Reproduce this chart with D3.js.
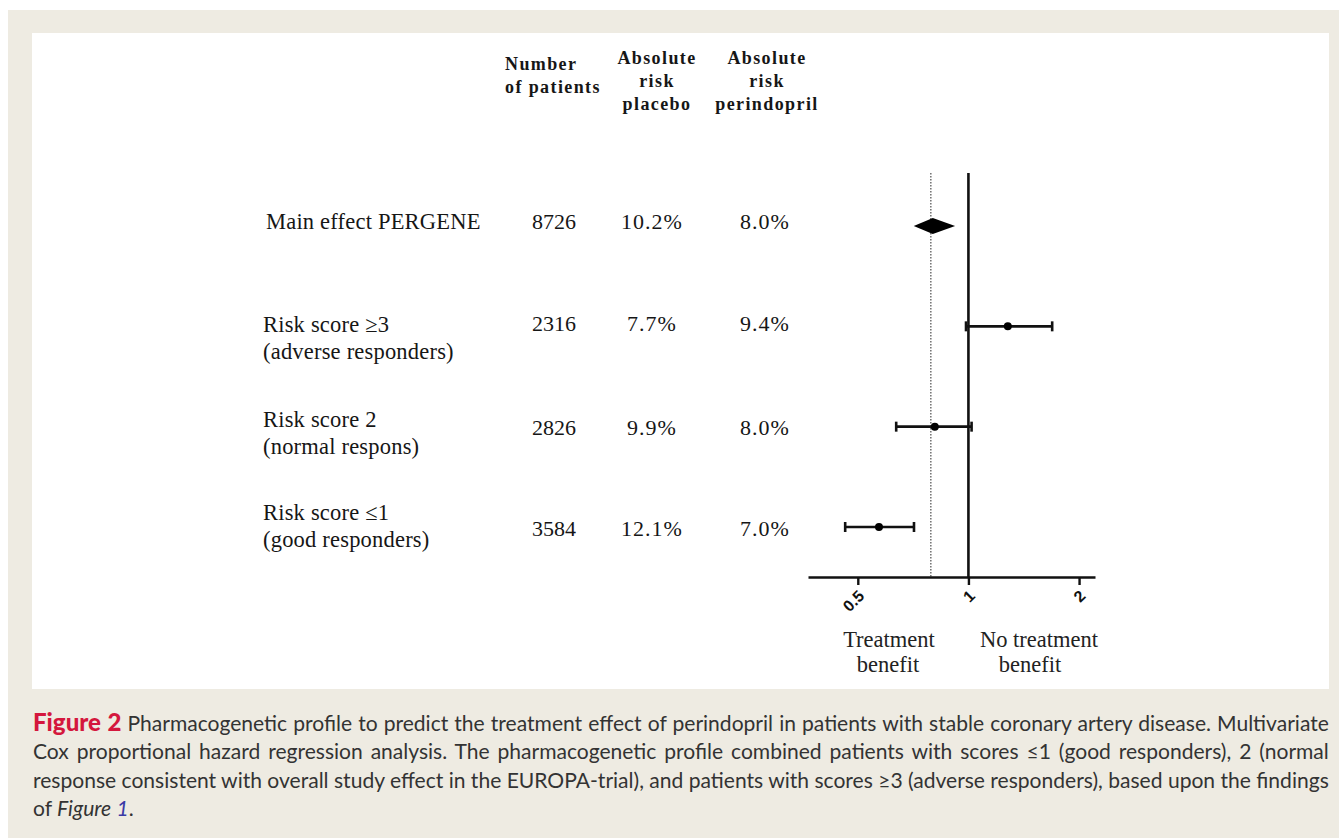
<!DOCTYPE html>
<html><head><meta charset="utf-8">
<script src="https://cdn.jsdelivr.net/npm/d3@7"></script>
<style>body{margin:0;background:#fff;} svg{display:block}</style>
</head><body><svg id="c" width="1339" height="838"></svg>
<script>
// ---------------- data ----------------
const rowIds = ["main", "adverse", "normal", "good"];
const labelLine1 = ["Main effect PERGENE", "Risk score \u22653", "Risk score 2", "Risk score \u22641"];
const labelLine2 = ["", "(adverse responders)", "(normal respons)", "(good responders)"];
const nPatients = ["8726", "2316", "2826", "3584"];
const riskPlacebo = ["10.2%", "7.7%", "9.9%", "12.1%"];
const riskPerindopril = ["8.0%", "9.4%", "8.0%", "7.0%"];
const hrEstimate = [0.80, 1.28, 0.81, 0.571];
const hrLower = [0.71, 0.985, 0.636, 0.462];
const hrUpper = [0.92, 1.69, 1.02, 0.711];
const overallRef = 0.79;
const nullRef = 1;
const tickValues = [0.5, 1, 2];
const tickLabels = ["0.5", "1", "2"];
const headerCols = [["Number", "of patients"], ["Absolute", "risk", "placebo"], ["Absolute", "risk", "perindopril"]];
const directionLabels = [["Treatment", "benefit"], ["No treatment", "benefit"]];
const captionLines = [
  [{t: "Figure 2", s: "fig"}, {t: " Pharmacogenetic profile to predict the treatment effect of perindopril in patients with stable coronary artery disease. Multivariate"}],
  [{t: "Cox proportional hazard regression analysis. The pharmacogenetic profile combined patients with scores \u22641 (good responders), 2 (normal"}],
  [{t: "response consistent with overall study effect in the EUROPA-trial), and patients with scores \u22653 (adverse responders), based upon the findings"}],
  [{t: "of "}, {t: "Figure", s: "it"}, {t: " "}, {t: "1", s: "link"}, {t: "."}]
];

// ---------------- layout ----------------
const svg = d3.select("#c");
const serif = "'Liberation Serif','Times New Roman',serif";
const ink = "#161616";

svg.append("rect").attr("width", 1339).attr("height", 838).attr("fill", "#fff");
svg.append("rect").attr("x", 8).attr("y", 10).attr("width", 1331).attr("height", 828).attr("fill", "#eeebe2");
svg.append("rect").attr("x", 32).attr("y", 33).attr("width", 1297).attr("height", 656).attr("fill", "#fff");

const x = d3.scaleLog().domain([0.366, 2.21]).range([808, 1095]);
const y = d3.scalePoint().domain(rowIds).range([226, 527]);
const axisY = 577, plotTop = 173;

// per-row text offsets (layout)
const textOff = [
  {l1: 3, l2: 0, v: 3},
  {l1: 6, l2: 33, v: 5},
  {l1: 0, l2: 27, v: 8},
  {l1: -7, l2: 20, v: 9}
];

// headers
const headerX = [505, 657, 767];
const headerAnchor = ["start", "middle", "middle"];
const headerBase = [[70, 93], [64, 87, 110], [64, 87, 110]];
headerCols.forEach((col, ci) => {
  col.forEach((line, li) => {
    svg.append("text").attr("x", headerX[ci]).attr("y", headerBase[ci][li])
      .attr("text-anchor", headerAnchor[ci])
      .attr("font-family", serif).attr("font-weight", "bold").attr("font-size", 18)
      .attr("letter-spacing", 1.4).attr("fill", ink).text(line);
  });
});

// row labels and values
const fsRow = 22.5;
const valCols = [{arr: nPatients, x: 554, ls: 0}, {arr: riskPlacebo, x: 652, ls: 1}, {arr: riskPerindopril, x: 765, ls: 1}];
rowIds.forEach((id, i) => {
  const yy = y(id);
  svg.append("text").attr("x", i === 0 ? 266 : 263).attr("y", yy + textOff[i].l1)
    .attr("font-family", serif).attr("font-size", fsRow).attr("letter-spacing", 0.2).attr("fill", ink).text(labelLine1[i]);
  if (labelLine2[i]) svg.append("text").attr("x", 263).attr("y", yy + textOff[i].l2)
    .attr("font-family", serif).attr("font-size", fsRow).attr("letter-spacing", 0.2).attr("fill", ink).text(labelLine2[i]);
  valCols.forEach(c => {
    svg.append("text").attr("x", c.x).attr("y", yy + textOff[i].v).attr("text-anchor", "middle")
      .attr("font-family", serif).attr("font-size", fsRow - 0.5).attr("letter-spacing", c.ls).attr("fill", ink).text(c.arr[i]);
  });
});

// reference lines
svg.append("line").attr("x1", x(overallRef)).attr("x2", x(overallRef)).attr("y1", plotTop).attr("y2", axisY)
  .attr("stroke", "#777").attr("stroke-width", 1.6).attr("stroke-dasharray", "1.5,1.5");
svg.append("line").attr("x1", x(nullRef)).attr("x2", x(nullRef)).attr("y1", plotTop).attr("y2", axisY)
  .attr("stroke", "#111").attr("stroke-width", 2.6);

// axis
const axis = d3.axisBottom(x).tickValues(tickValues).tickFormat((d, i) => tickLabels[i]).tickSize(8).tickSizeOuter(0);
const gA = svg.append("g").attr("transform", `translate(0,${axisY})`).call(axis);
gA.select(".domain").attr("stroke", "#111").attr("stroke-width", 2.6);
gA.selectAll(".tick line").attr("stroke", "#111").attr("stroke-width", 2.4);
gA.selectAll(".tick text").attr("y", 0).attr("dy", 0).attr("text-anchor", "end")
  .attr("transform", "translate(7,20) rotate(-45)")
  .attr("font-family", "'Liberation Sans',Arial,sans-serif").attr("font-weight", "bold")
  .attr("font-size", 16).attr("fill", "#111");

// forest marks
const rows = rowIds.map((id, i) => ({id, est: hrEstimate[i], lo: hrLower[i], hi: hrUpper[i], i}));
const m = rows[0];
svg.append("path")
  .attr("d", `M${x(m.lo)},${y(m.id)} L${x(m.est)},${y(m.id) - 8} L${x(m.hi)},${y(m.id)} L${x(m.est)},${y(m.id) + 8} Z`)
  .attr("fill", "#000");
const sub = rows.slice(1);
const g = svg.append("g");
g.selectAll(".ci").data(sub).join("line")
  .attr("x1", d => x(d.lo)).attr("x2", d => x(d.hi)).attr("y1", d => y(d.id)).attr("y2", d => y(d.id))
  .attr("stroke", "#111").attr("stroke-width", 2.6);
g.selectAll(".capL").data(sub).join("line")
  .attr("x1", d => x(d.lo)).attr("x2", d => x(d.lo)).attr("y1", d => y(d.id) - 5).attr("y2", d => y(d.id) + 5)
  .attr("stroke", "#111").attr("stroke-width", 2.6);
g.selectAll(".capR").data(sub).join("line")
  .attr("x1", d => x(d.hi)).attr("x2", d => x(d.hi)).attr("y1", d => y(d.id) - 5).attr("y2", d => y(d.id) + 5)
  .attr("stroke", "#111").attr("stroke-width", 2.6);
g.selectAll("circle").data(sub).join("circle")
  .attr("cx", d => x(d.est)).attr("cy", d => y(d.id)).attr("r", 4).attr("fill", "#000");

// direction labels
const dirX = [[889, 888], [1039, 1030]];
const dirBase = [647, 672];
directionLabels.forEach((lab, k) => {
  lab.forEach((line, li) => {
    svg.append("text").attr("x", dirX[k][li]).attr("y", dirBase[li]).attr("text-anchor", "middle")
      .attr("font-family", serif).attr("font-size", 22.5).attr("fill", "#222").text(line);
  });
});

// caption
const capFont = "Lato,'Open Sans',sans-serif";
const capFs = 21;
const capBase = [731, 759, 788, 816];
const capLeft = 33, capWidth = 1297;
const capNodes = captionLines.map((segs, li) => {
  const t = svg.append("text").attr("x", 0).attr("y", 0)
    .attr("font-family", capFont).attr("font-size", capFs).attr("fill", "#333")
    .attr("xml:space", "preserve");
  segs.forEach(sg => {
    const ts = t.append("tspan").text(sg.t);
    if (sg.s === "fig") ts.attr("font-weight", "900").attr("font-size", 24).attr("fill", "#d4173d");
    if (sg.s === "it") ts.attr("font-style", "italic");
    if (sg.s === "link") ts.attr("font-style", "italic").attr("fill", "#3a3aa6");
  });
  return t;
});
const widths = capNodes.map(t => t.node().getComputedTextLength());
const sc = capWidth / d3.max(widths.slice(0, 3));
capNodes.forEach((t, li) => {
  if (li < 3) {
    const txt = captionLines[li].map(s => s.t).join("");
    const spaces = (txt.match(/ /g) || []).length;
    const extra = capWidth / sc - widths[li];
    if (extra > 0.5) t.attr("word-spacing", extra / spaces);
  }
  t.attr("transform", `translate(${capLeft},${capBase[li]}) scale(${sc},1)`);
});
</script>
</body></html>
